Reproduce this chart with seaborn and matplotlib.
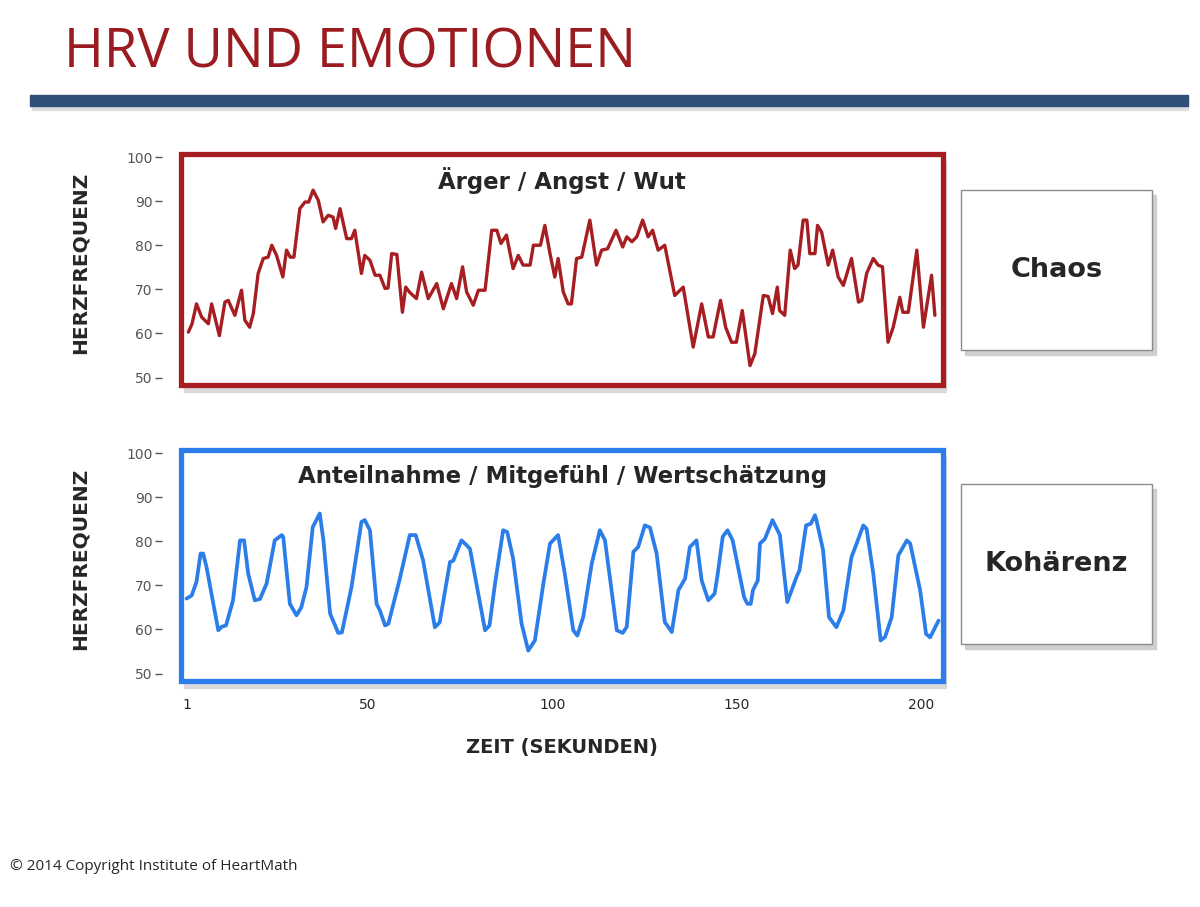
import matplotlib
matplotlib.use("Agg")
import matplotlib.pyplot as plt
from matplotlib.patches import Rectangle
import numpy as np
import pandas as pd
import seaborn as sns

# --- data (time in seconds, heart rate in bpm) ---
chaos_t = [1.4, 2.4, 3.6, 5.0, 6.8, 7.7, 9.8, 11.3, 12.2, 14.0, 15.8, 16.7, 18.0, 19.0,
           20.3, 21.7, 23.0, 24.0, 25.3, 27.0, 28.0, 29.0, 30.0, 31.6, 33.0, 34.0, 35.2,
           36.6, 37.9, 39.3, 40.6, 41.3, 42.5, 44.3, 45.6, 46.5, 48.3, 49.2, 50.6, 52.0,
           53.3, 54.7, 55.5, 56.5, 57.9, 59.4, 60.3, 61.4, 63.2, 64.6, 66.4, 68.7, 70.5,
           72.7, 74.1, 75.7, 76.8, 78.6, 80.0, 81.8, 83.6, 85.0, 86.1, 87.6, 89.4, 90.8,
           92.1, 94.0, 94.9, 96.8, 98.0, 99.4, 100.7, 101.6, 103.0, 104.3, 105.2, 106.6,
           108.0, 110.2, 112.0, 113.4, 115.0, 117.3, 119.1, 120.2, 121.6, 122.9, 124.5,
           126.0, 127.2, 128.7, 130.5, 133.2, 135.5, 138.2, 140.5, 142.3, 143.6, 145.6,
           147.0, 148.6, 149.9, 151.5, 153.6, 154.9, 157.2, 158.5, 159.7, 161.0, 161.6,
           163.0, 164.5, 165.7, 166.6, 168.0, 169.0, 169.8, 171.2, 171.9, 173.0, 174.8,
           176.0, 177.5, 178.9, 181.1, 183.0, 183.9, 185.2, 187.0, 188.3, 189.5, 191.0,
           192.4, 194.2, 195.0, 196.5, 198.8, 200.6, 202.8, 203.7]
chaos_hr = [60.3, 62.2, 66.7, 63.7, 62.2, 66.7, 59.5, 67.1, 67.5, 64.1, 69.8, 63.0, 61.4, 64.5,
            73.6, 77.0, 77.3, 80.0, 77.7, 72.8, 78.9, 77.3, 77.3, 88.3, 89.8, 89.8, 92.5,
            90.2, 85.3, 86.8, 86.4, 83.8, 88.3, 81.5, 81.5, 83.4, 73.6, 77.7, 76.6, 73.2,
            73.2, 70.2, 70.3, 78.1, 77.9, 64.8, 70.5, 69.3, 67.9, 73.9, 67.9, 71.3, 65.6,
            71.3, 67.9, 75.1, 69.4, 66.4, 69.8, 69.8, 83.4, 83.4, 80.4, 82.3, 74.7, 77.7,
            75.5, 75.5, 80.0, 80.0, 84.5, 78.1, 72.8, 77.0, 69.4, 66.7, 66.7, 77.0,
            77.3, 85.7, 75.5, 78.9, 79.2, 83.4, 79.6, 81.9, 80.8, 81.9, 85.7,
            81.9, 83.4, 78.9, 80.0, 68.6, 70.5, 56.9, 66.7, 59.2, 59.2, 67.5,
            61.4, 58.0, 58.0, 65.2, 52.7, 55.4, 68.6, 68.4, 64.5, 70.5, 65.2,
            64.1, 78.9, 74.7, 75.5, 85.7, 85.7, 78.1, 78.1, 84.5, 83.0, 75.5,
            78.9, 72.8, 70.9, 77.0, 67.1, 67.5, 73.6, 77.0, 75.5, 75.1, 58.0,
            61.4, 68.2, 64.8, 64.8, 78.9, 61.4, 73.2, 64.1]

coherence_t = [0.9, 2.3, 3.6, 4.7, 5.4, 6.3, 9.5, 10.4, 11.6, 13.5, 15.4, 16.5, 17.6, 19.4,
               20.8, 22.6, 24.8, 26.7, 27.1, 28.9, 30.7, 32.0, 33.4, 35.1, 37.0, 38.0, 39.8,
               42.0, 43.0, 45.6, 48.3, 49.2, 50.6, 52.4, 53.3, 54.7, 55.6, 58.7, 61.4, 63.0,
               65.0, 68.2, 69.5, 72.3, 73.2, 75.4, 76.8, 77.7, 81.8, 83.0, 84.5, 86.7, 87.8,
               89.4, 91.7, 93.5, 95.3, 97.6, 99.4, 101.6, 103.4, 105.7, 106.8, 108.4, 110.7,
               112.9, 114.3, 117.5, 119.1, 120.2, 122.0, 123.3, 125.1, 126.5, 128.3, 130.5,
               132.4, 134.2, 136.0, 137.3, 139.1, 140.5, 142.3, 144.0, 144.8, 146.2, 147.5,
               148.9, 152.0, 152.9, 153.8, 154.4, 155.7, 156.3, 157.6, 159.7, 161.7, 163.7,
               166.2, 167.0, 168.8, 170.1, 171.2, 171.6, 173.4, 175.0, 177.0, 178.9, 181.1,
               182.5, 184.3, 185.2, 187.0, 189.0, 190.2, 192.0, 193.8, 196.1, 197.0, 199.7,
               201.3, 202.4, 204.7]
coherence_hr = [67.0, 67.7, 70.8, 77.2, 77.2, 74.2, 59.8, 60.6, 60.9, 66.6, 80.2, 80.2, 72.7, 66.6,
                66.9, 70.4, 80.2, 81.4, 81.0, 65.8, 63.2, 65.0, 69.6, 83.2, 86.3, 80.2, 63.6,
                59.2, 59.3, 69.6, 84.4, 84.8, 82.5, 65.8, 64.3, 60.9, 61.3, 71.5, 81.4, 81.4,
                75.7, 60.5, 61.6, 75.3, 75.6, 80.2, 79.1, 78.3, 59.8, 60.9, 70.4, 82.5, 82.1,
                76.1, 61.3, 55.2, 57.5, 70.4, 79.5, 81.4, 72.7, 59.8, 58.6, 62.8, 74.9,
                82.5, 80.2, 59.8, 59.2, 60.6, 77.6, 78.7, 83.6, 83.1, 77.2, 61.7,
                59.4, 68.9, 71.5, 78.7, 80.2, 71.1, 66.6, 68.1, 72.3, 81.0, 82.5,
                80.2, 67.3, 65.8, 65.8, 68.9, 71.1, 79.5, 80.5, 84.8, 81.4, 66.2,
                71.9, 73.4, 83.6, 84.0, 85.9, 84.8, 78.0, 62.8, 60.5, 64.3, 76.4,
                79.5, 83.6, 82.8, 72.7, 57.5, 58.3, 62.8, 76.8, 80.2, 79.5, 68.9,
                59.0, 58.2, 62.0]

y_ticks = [50, 60, 70, 80, 90, 100]
x_ticks = [1, 50, 100, 150, 200]

panels = [
    ("Ärger / Angst / Wut", "Chaos", chaos_t, chaos_hr),
    ("Anteilnahme / Mitgefühl / Wertschätzung", "Kohärenz", coherence_t, coherence_hr),
]

RED = "#a61e22"
BLUE = "#2b7de9"
TEXT_DARK = "#262626"
TICK_GREY = "#555555"

sns.set_style("white")
plt.rcParams["font.family"] = ["DejaVu Sans"]

W, H = 1200, 907
fig = plt.figure(figsize=(W / 100, H / 100), dpi=100)


def fx(px):
    return px / W


def fy(py):
    return 1 - py / H


# header
fig.text(fx(64), fy(68), "HRV UND EMOTIONEN", color="#9b1c20", fontsize=39,
         family=["Open Sans", "DejaVu Sans"], va="baseline", ha="left")
fig.add_artist(Rectangle((fx(32), fy(110)), fx(1156), 5 / H, color="#dcdcdc",
                         transform=fig.transFigure, zorder=1))
fig.add_artist(Rectangle((fx(30), fy(106)), fx(1158), 11 / H, color="#2f4f76",
                         transform=fig.transFigure, zorder=2))

# panel geometry in pixels: (left, top, right, bottom)
panel_boxes = [(181, 154, 943, 385), (181, 450, 943, 681)]
side_boxes = [(961, 190, 1152, 350), (961, 484, 1152, 644)]
colors = [RED, BLUE]
line_widths = [2.4, 2.7]

for i, (subtitle, label, t, hr) in enumerate(panels):
    l, tp, r, b = panel_boxes[i]

    # soft shadow behind the framed panel
    fig.add_artist(Rectangle((fx(l + 3), fy(b + 7)), fx(r - l), (b - tp) / H,
                             color="#d9d9d9", transform=fig.transFigure, zorder=-2))

    ax = fig.add_axes([fx(l), fy(b), fx(r - l), (b - tp) / H])
    ax.set_facecolor("white")
    df = pd.DataFrame({"t": t, "hr": hr})
    sns.lineplot(data=df, x="t", y="hr", ax=ax, color=colors[i],
                 linewidth=line_widths[i], estimator=None, sort=False)
    ax.set_xlim(-0.6, 205.9)
    ax.set_ylim(48.3, 100.7)
    ax.set_xlabel("")
    ax.set_ylabel("HERZFREQUENZ", fontsize=14.5, fontweight="bold", color=TEXT_DARK)
    ax.yaxis.set_label_coords(-0.12, 0.53)
    for s in ["top", "right", "bottom", "left"]:
        ax.spines[s].set_visible(False)
    ax.spines["left"].set_position(("outward", 14))
    ax.set_yticks(y_ticks)
    ax.tick_params(axis="y", length=5, width=1, color=TICK_GREY, direction="out",
                   pad=1.5, labelsize=10, labelcolor=TICK_GREY, left=True)
    if i == 1:
        ax.set_xticks(x_ticks)
        ax.tick_params(axis="x", length=0, pad=12, labelsize=10, labelcolor=TEXT_DARK)
        ax.set_xlabel("ZEIT (SEKUNDEN)", fontsize=14, fontweight="bold",
                      color=TEXT_DARK, labelpad=19)
    else:
        ax.set_xticks([])

    ax.add_patch(Rectangle((0, 0), 1, 1, transform=ax.transAxes, fill=False,
                           edgecolor=colors[i], linewidth=3.8, clip_on=False, zorder=5))
    ax.text(0.5, 0.885, subtitle, transform=ax.transAxes, ha="center", va="center",
            fontsize=16.5, fontweight="bold", color=TEXT_DARK)

    # side label box
    sl, st, sr, sb = side_boxes[i]
    fig.add_artist(Rectangle((fx(sl + 4), fy(sb + 5)), fx(sr - sl), (sb - st) / H,
                             color="#cfcfcf", transform=fig.transFigure, zorder=1))
    fig.add_artist(Rectangle((fx(sl), fy(sb)), fx(sr - sl), (sb - st) / H,
                             facecolor="white", edgecolor="#8c8c8c", linewidth=1,
                             transform=fig.transFigure, zorder=2))
    fig.text(fx((sl + sr) / 2), fy((st + sb) / 2), label, ha="center", va="center",
             fontsize=19.5, fontweight="bold", color=TEXT_DARK, zorder=3)

fig.text(fx(10), fy(866), "© 2014 Copyright Institute of HeartMath", fontsize=11,
         color=TEXT_DARK, va="center", ha="left", family=["Open Sans", "DejaVu Sans"])

fig.savefig("out.png", dpi=100)
